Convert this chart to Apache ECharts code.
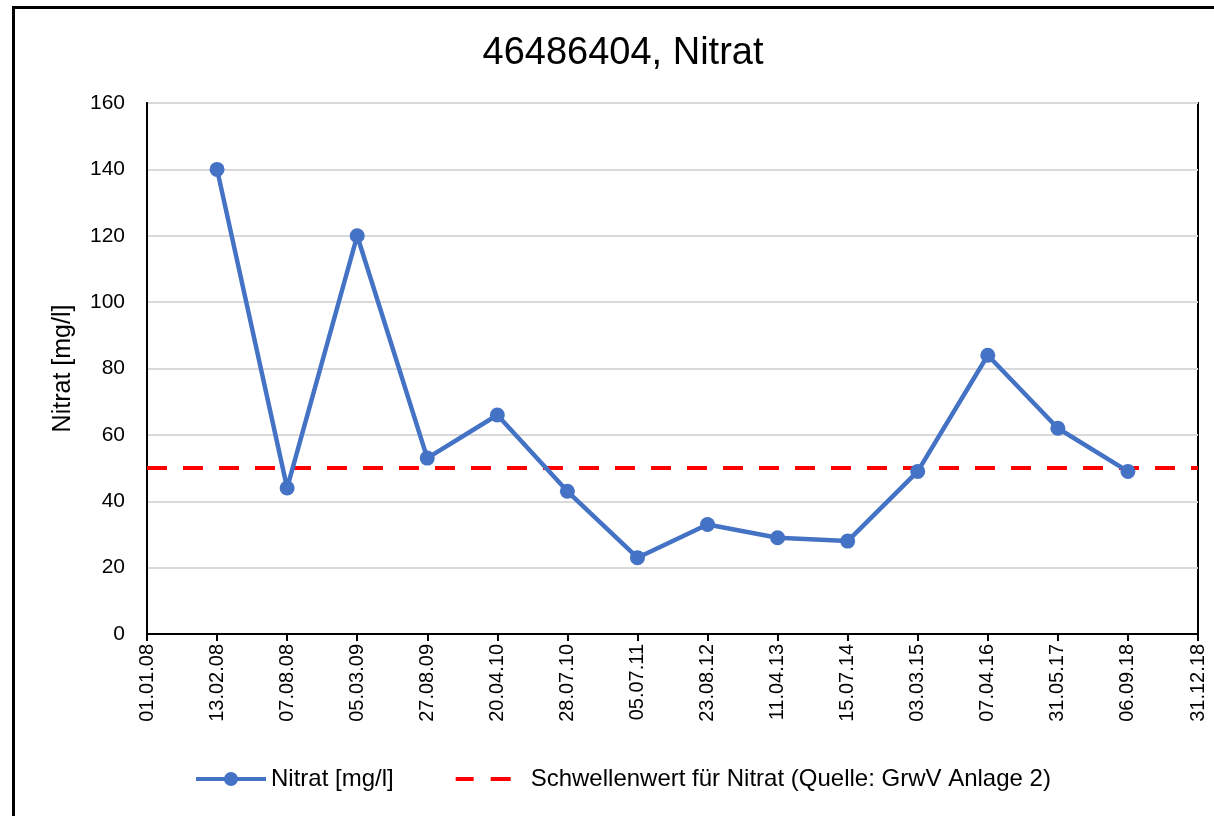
<!DOCTYPE html>
<html>
<head>
<meta charset="utf-8">
<title>46486404, Nitrat</title>
<script src="https://cdn.jsdelivr.net/npm/echarts@6/dist/echarts.min.js"></script>
<style>
  body {margin:0; background:#fff;}
  #main {width:1214px; height:816px;}
</style>
</head>
<body>
<div id="main"></div>
<script>
// Probenahmedaten
var dates = ['01.01.08','13.02.08','07.08.08','05.03.09','27.08.09','20.04.10','28.07.10','05.07.11',
             '23.08.12','11.04.13','15.07.14','03.03.15','07.04.16','31.05.17','06.09.18','31.12.18'];
var nitrat = [null,140,44,120,53,66,43,23,33,29,28,49,84,62,49,null];
var schwelle = [50,50,50,50,50,50,50,50,50,50,50,50,50,50,50,50];
var yTicks = {min:0, max:160, step:20};

var chart = echarts.init(document.getElementById('main'));
var font = 'Liberation Sans, Arial, sans-serif';

// Legendensymbole wie im Excel-Original
var iconNitrat = 'path://M0,5h29v4h-29z M41,5h29v4h-29z M28,7a7,7 0 1,1 14,0a7,7 0 1,1 -14,0z';
var iconSchwelle = 'path://M0,0h0.01v0.01h-0.01z M0,5h18v4h-18z M35,5h20v4h-20z M69.99,13.99h0.01v0.01h-0.01z';

chart.setOption({
  animation: false,
  textStyle: {fontFamily: font, color:'#000'},
  title: {
    text: '46486404, Nitrat',
    left: 618, top: 30, textAlign: 'center',
    textStyle: {fontSize: 38, fontWeight: 'normal', color:'#000', fontFamily: font}
  },
  graphic: [{
    type: 'polyline',
    shape: {points: [[13.5, 816], [13.5, 7.5], [1214, 7.5]]},
    style: {stroke: '#000', lineWidth: 3, fill: null}
  }],
  grid: {left:147, right:16, top:103, bottom:182, show:true, borderColor:'#000', borderWidth:2},
  legend: {
    bottom: 20, left: 191,
    itemWidth: 70, itemHeight: 14, itemGap: 62,
    textStyle: {fontSize: 24, color:'#000', fontFamily: font},
    data: [
      {name:'Nitrat [mg/l]', icon: iconNitrat},
      {name:'Schwellenwert für Nitrat (Quelle: GrwV Anlage 2)', icon: iconSchwelle}
    ]
  },
  xAxis: {
    type: 'category', data: dates, boundaryGap: false,
    axisLine: {lineStyle: {color:'#000', width:2}},
    axisTick: {show:true, length:7, lineStyle:{color:'#000', width:2}},
    axisLabel: {rotate: 90, fontSize: 20, color:'#000', margin: 10, interval: 0},
    splitLine: {show:false}
  },
  yAxis: {
    type: 'value', min: yTicks.min, max: yTicks.max, interval: yTicks.step,
    name: 'Nitrat [mg/l]', nameLocation: 'middle', nameGap: 71, nameRotate: 90,
    nameTextStyle: {fontSize: 25, color:'#000'},
    axisLine: {show:true, lineStyle:{color:'#000', width:2}},
    axisTick: {show:false},
    axisLabel: {fontSize: 21, color:'#000', margin: 22},
    splitLine: {lineStyle: {color:'#d9d9d9', width:2}}
  },
  series: [{
    name: 'Nitrat [mg/l]', type: 'line', data: nitrat,
    symbol: 'circle', symbolSize: 15, connectNulls: false,
    lineStyle: {color:'#4472c4', width:4.5},
    itemStyle: {color:'#4472c4'}
  }, {
    name: 'Schwellenwert für Nitrat (Quelle: GrwV Anlage 2)', type: 'line', data: schwelle,
    symbol: 'none', z: 1,
    lineStyle: {color:'#ff0000', width:4, type:[20,16]},
    itemStyle: {color:'#ff0000'}
  }]
});
</script>
</body>
</html>
